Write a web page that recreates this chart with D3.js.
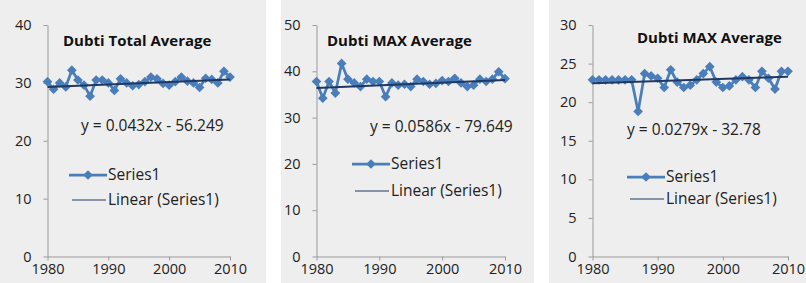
<!DOCTYPE html>
<html>
<head>
<meta charset="utf-8">
<script src="https://cdn.jsdelivr.net/npm/d3@7"></script>
<style>
  body { margin: 0; background: #fff; }
  svg { display: block; }
  .tick text { font-family: "Open Sans", sans-serif; font-size: 14.5px; fill: #222; }
  .axis path, .axis line { stroke: #9a9a9a; }
</style>
</head>
<body>
<svg id="chart" width="806" height="283"></svg>
<script>
// data
var years = d3.range(1980, 2011);
var totalAvg = [30.2, 28.9, 30.0, 29.3, 32.2, 30.5, 29.6, 27.7, 30.5, 30.5, 30.0,
                28.7, 30.7, 30.0, 29.5, 29.7, 30.2, 31.0, 30.7, 29.9, 29.6,
                30.2, 31.0, 30.3, 30.0, 29.2, 30.8, 30.6, 30.0, 32.0, 31.0];
var maxAvgA = [37.8, 34.2, 37.8, 35.3, 41.7, 38.3, 37.5, 36.7, 38.3, 37.8, 37.8,
               34.5, 37.5, 37.0, 37.2, 36.7, 38.3, 37.8, 37.2, 37.4, 38.0,
               37.8, 38.5, 37.5, 36.7, 37.0, 38.3, 37.8, 38.3, 39.9, 38.4];
var maxAvgB = [22.9, 22.9, 22.9, 22.9, 22.9, 22.9, 22.9, 18.8, 23.7, 23.4, 23.1,
               21.9, 24.2, 22.6, 21.9, 22.2, 22.9, 23.7, 24.6, 22.6, 21.9,
               22.1, 22.9, 23.3, 22.9, 21.9, 24.0, 23.1, 21.7, 24.0, 24.0];
var titles = ["Dubti Total Average", "Dubti MAX Average", "Dubti MAX Average"];
var slopes = [0.0432, 0.0586, 0.0279];
var intercepts = [-56.249, -79.649, -32.78];
var equations = ["y = 0.0432x - 56.249", "y = 0.0586x - 79.649", "y = 0.0279x - 32.78"];
var yMaxes = [40, 50, 30];
var yTickSets = [[0, 10, 20, 30, 40], [0, 10, 20, 30, 40, 50], [0, 5, 10, 15, 20, 25, 30]];
var xTicks = [1980, 1990, 2000, 2010];
var legendLabels = ["Series1", "Linear (Series1)"];

// layout of the three panels
var panels = [
  {bx: 0,   bw: 266, x0: 47.5,  x1: 230,  titleX: 63,  titleY: 41, eqX: 81,  eqY: 126, legX: 69,  legY: 175, legGap: 25},
  {bx: 281, bw: 253, x0: 316.5, x1: 505,  titleX: 327, titleY: 41, eqX: 370, eqY: 127, legX: 352, legY: 164, legGap: 27},
  {bx: 549, bw: 257, x0: 592.5, x1: 788,  titleX: 637, titleY: 38, eqX: 627, eqY: 130, legX: 627, legY: 177, legGap: 22}
];
var series = [totalAvg, maxAvgA, maxAvgB];
var yTop = 25, yBot = 256.5;
var blue = "#4a7ebb", navy = "#1f3864";
var font = "'Open Sans', sans-serif";

var svg = d3.select("#chart");
var diamond = d3.symbol().type(d3.symbolDiamond2).size(60);

panels.forEach(function(p, i) {
  var g = svg.append("g");
  g.append("rect").attr("x", p.bx).attr("y", 0).attr("width", p.bw).attr("height", 283)
    .attr("fill", "#eeeeee");

  var x = d3.scaleLinear().domain([1980, 2010]).range([p.x0, p.x1]);
  var y = d3.scaleLinear().domain([0, yMaxes[i]]).range([yBot, yTop]);

  g.append("g").attr("class", "axis").attr("transform", "translate(" + p.x0 + ",0)")
    .call(d3.axisLeft(y).tickValues(yTickSets[i]).tickSize(4).tickPadding(12).tickSizeOuter(0));
  g.append("g").attr("class", "axis").attr("transform", "translate(0," + yBot + ")")
    .call(d3.axisBottom(x).tickValues(xTicks).tickFormat(d3.format("d")).tickSize(4).tickPadding(3).tickSizeOuter(0));

  var line = d3.line().x(function(d, k) { return x(years[k]); }).y(function(d) { return y(d); });
  g.append("path").datum(series[i]).attr("d", line)
    .attr("fill", "none").attr("stroke", blue).attr("stroke-width", 2.75).attr("stroke-linejoin", "round");
  g.selectAll(".pt").data(series[i]).enter().append("path")
    .attr("d", diamond)
    .attr("transform", function(d, k) { return "translate(" + x(years[k]) + "," + y(d) + ")"; })
    .attr("fill", blue);

  // trend line from the fitted equation
  var ends = [xTicks[0], xTicks[xTicks.length - 1]];
  g.append("line")
    .attr("x1", x(ends[0])).attr("y1", y(slopes[i] * ends[0] + intercepts[i]))
    .attr("x2", x(ends[1])).attr("y2", y(slopes[i] * ends[1] + intercepts[i]))
    .attr("stroke", navy).attr("stroke-width", 2);

  g.append("text").attr("x", p.titleX).attr("y", p.titleY).attr("dy", "0.35em")
    .attr("font-family", font).attr("font-weight", "bold").attr("font-size", 15)
    .attr("fill", "#111").text(titles[i]);
  g.append("text").attr("x", p.eqX).attr("y", p.eqY).attr("dy", "0.35em")
    .attr("font-family", font).attr("font-size", 15.5)
    .attr("fill", "#222").text(equations[i]);

  // legend
  g.append("line").attr("x1", p.legX).attr("x2", p.legX + 38).attr("y1", p.legY).attr("y2", p.legY)
    .attr("stroke", blue).attr("stroke-width", 2.75);
  g.append("path").attr("d", diamond).attr("fill", blue)
    .attr("transform", "translate(" + (p.legX + 19) + "," + p.legY + ")");
  g.append("line").attr("x1", p.legX + 3).attr("x2", p.legX + 37)
    .attr("y1", p.legY + p.legGap).attr("y2", p.legY + p.legGap)
    .attr("stroke", navy).attr("stroke-width", 1.2);
  legendLabels.forEach(function(t, k) {
    g.append("text").attr("x", p.legX + 39).attr("y", p.legY + k * p.legGap).attr("dy", "0.35em")
      .attr("font-family", font).attr("font-size", 15.5)
      .attr("fill", "#222").text(t);
  });
});
</script>
</body>
</html>
